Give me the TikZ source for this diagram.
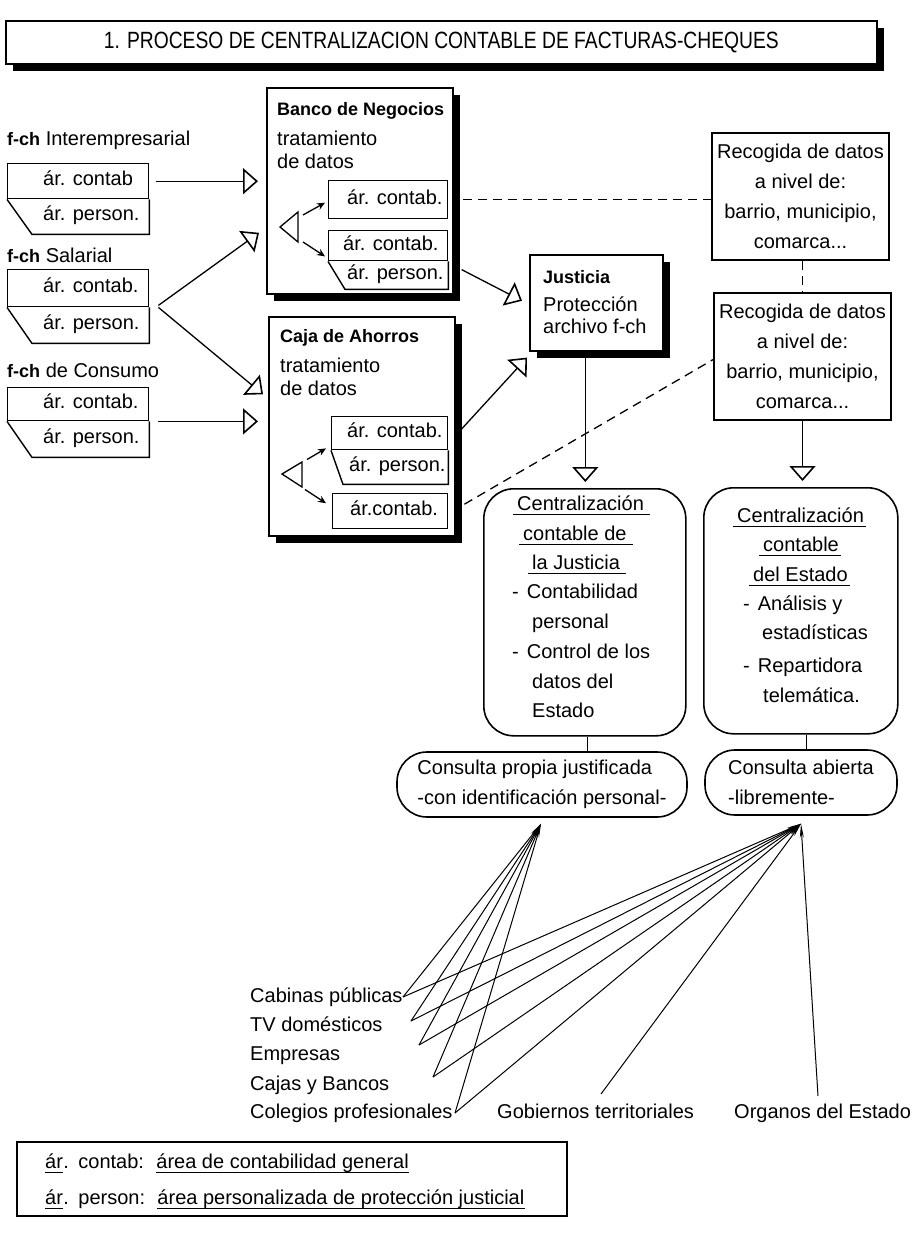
\documentclass[tikz,border=0pt]{standalone}
\usepackage{fontspec}
\setmainfont{Liberation Sans}
\newfontfamily\titlefont[FakeStretch=0.82]{Liberation Sans}
\usetikzlibrary{arrows.meta,shadows,calc,positioning}

\newcommand{\bodysize}{\fontsize{20}{30}\selectfont}
\newcommand{\boldsize}{\fontsize{18}{30}\selectfont\bfseries}
\newcommand{\dashitem}{-\hspace{8pt}}

\tikzset{
  txt/.style={inner sep=0pt, text height=14pt, text depth=4pt, font=\bodysize},
  bld/.style={txt, font=\boldsize},
  box/.style={draw, line width=1.6pt, fill=white, inner sep=0pt},
  shbox/.style={box, drop shadow={shadow xshift=7pt, shadow yshift=-7pt, opacity=1, fill=black}},
  cell/.style={draw, line width=1.4pt, inner sep=0pt},
  rbox/.style={draw, line width=1.6pt, rounded corners=30pt, inner sep=0pt},
  harrow/.style={line width=1.3pt, -{Triangle[open, length=15pt, width=26pt, line width=1.6pt]}},
  sarrow/.style={line width=1.3pt, -{Stealth[length=8pt, width=7pt]}},
  dline/.style={line width=1.3pt, dash pattern=on 9pt off 6pt},
  fanline/.style={line width=1pt, -{Stealth[length=14pt, width=4pt]}}
}

\begin{document}
\begin{tikzpicture}[x=1pt, y=-1pt]

    \fill[white] (0,0) rectangle (917,1247);

    \node[shbox, font=\titlefont\fontsize{23.5}{26}\selectfont, minimum width=871pt, minimum height=43pt, anchor=north west] (title) at (5,20) {1. PROCESO DE CENTRALIZACION CONTABLE DE FACTURAS-CHEQUES};

    % facturas-cheques
    \node[txt, anchor=west] (inter) at (7,140) {{\boldsize f-ch} Interempresarial};
    \node[cell, minimum width=141pt, minimum height=35pt, anchor=north west] (ic) at (7,163) {};
    \draw[line width=1.4pt] (ic.south west) -- ++(25,35) -| (ic.south east);
    \node[txt, anchor=west] (ic-t) at (43,180.5) {ár. contab};
    \node[txt, anchor=west] (ip-t) at (43,215.5) {ár. person.};

    \node[txt, anchor=west] (salar) at (7,257) {{\boldsize f-ch} Salarial};
    \node[cell, minimum width=141pt, minimum height=37pt, anchor=north west] (sc) at (7,269) {};
    \draw[line width=1.4pt] (sc.south west) -- ++(25,36) -| (sc.south east);
    \node[txt, anchor=west] (sc-t) at (43,287.5) {ár. contab.};
    \node[txt, anchor=west] (sp-t) at (43,324) {ár. person.};

    \node[txt, anchor=west] (consu) at (7,372) {{\boldsize f-ch} de Consumo};
    \node[cell, minimum width=141pt, minimum height=33pt, anchor=north west] (cc) at (7,387) {};
    \draw[line width=1.4pt] (cc.south west) -- ++(25,36) -| (cc.south east);
    \node[txt, anchor=west] (cc-t) at (43,403.5) {ár. contab.};
    \node[txt, anchor=west] (cp-t) at (43,438) {ár. person.};

    % bancos
    \node[shbox, minimum width=186pt, minimum height=206pt, anchor=north west] (banco) at (266,87) {};
    \node[bld, anchor=west] (banco-t) at (277,110) {Banco de Negocios};
    \node[txt, anchor=west] (banco-t2) at (277,140) {tratamiento};
    \node[txt, anchor=west] (banco-t3) at (277,163) {de datos};
    \node[cell, minimum width=119pt, minimum height=38pt, anchor=north west] (bn1) at (328,180) {};
    \node[txt, anchor=west] (bn1-t) at (347,199) {ár. contab.};
    \node[cell, minimum width=119pt, minimum height=30pt, anchor=north west] (bn2) at (328,230) {};
    \draw[line width=1.4pt] (bn2.south west) -- ++(17,28) -| (bn2.south east);
    \node[txt, anchor=west] (bn2-t) at (343,245) {ár. contab.};
    \node[txt, anchor=west] (bn3-t) at (347,274) {ár. person.};
    \draw[line width=1.3pt] (280,227) -- (298,212) -- (298,242) -- cycle;
    \coordinate (bsplit) at (298,227);
    \draw[sarrow] ($(bsplit)+(5,-12)$) -- ($(bn1.west)+(-3,3)$);
    \draw[sarrow] ($(bsplit)+(5,15)$) -- ($(bn2.south west)+(-3,-5)$);

    \node[shbox, minimum width=186pt, minimum height=219pt, anchor=north west] (caja) at (268,316) {};
    \node[bld, anchor=west] (caja-t) at (280,337) {Caja de Ahorros};
    \node[txt, anchor=west] (caja-t2) at (280,367) {tratamiento};
    \node[txt, anchor=west] (caja-t3) at (280,390) {de datos};
    \node[cell, minimum width=116pt, minimum height=33pt, anchor=north west] (cb1) at (331,416) {};
    \draw[line width=1.4pt] (cb1.south west) -- ++(12,34) -| (cb1.south east);
    \node[txt, anchor=west] (cb1-t) at (347,432.5) {ár. contab.};
    \node[txt, anchor=west] (cb2-t) at (349,466) {ár. person.};
    \node[cell, minimum width=115pt, minimum height=35pt, anchor=north west] (cb3) at (332,493) {};
    \node[txt, anchor=west] (cb3-t) at (350,510.5) {ár.contab.};
    \draw[line width=1.3pt] (282,474) -- (302,462) -- (302,487) -- cycle;
    \coordinate (csplit) at (302,474.5);
    \draw[sarrow] ($(csplit)+(5,-15)$) -- ($(cb1.south west)+(-5,-2)$);
    \draw[sarrow] ($(csplit)+(3,15)$) -- ($(cb3.west)+(-6,-8)$);

    % justicia y recogida
    \node[shbox, minimum width=133pt, minimum height=96pt, anchor=north west] (just) at (529,254) {};
    \node[bld, anchor=west] (just-t) at (543,278) {Justicia};
    \node[txt, anchor=west] (just-t2) at (543,306) {Protección};
    \node[txt, anchor=west] (just-t3) at (543,328) {archivo f-ch};

    \node[box, font=\bodysize, align=center, minimum width=177pt, minimum height=127pt] (rec1) at (800.5,196.5) {Recogida de datos\\a nivel de:\\barrio, municipio,\\comarca...};
    \node[box, font=\bodysize, align=center, minimum width=177pt, minimum height=127pt] (rec2) at (802.5,356.5) {Recogida de datos\\a nivel de:\\barrio, municipio,\\comarca...};

    % centralizacion
    \node[rbox, minimum width=202pt, minimum height=247pt, anchor=north west] (cj) at (483,488) {};
    \foreach \t/\x/\y [count=\i] in {Centralización/517/505, contable de/523/535, la Justicia/532/564,
        \dashitem Contabilidad/512/593, personal/532/623, \dashitem Control de los/512/653, datos del/532/683, Estado/532/712}
      \node[txt, anchor=west] (cj\i) at (\x,\y) {\t};
    \foreach \i in {1,2,3}
      \draw[line width=1.2pt] ($(cj\i.south west)+(-4,0)$) -- ($(cj\i.south east)+(6,0)$);

    \node[rbox, minimum width=194pt, minimum height=246pt, anchor=north west] (ce) at (703,487) {};
    \foreach \t/\x/\y [count=\i] in {Centralización/737/517, contable/763/546, del Estado/753/576,
        \dashitem Análisis y/743/605, estadísticas/762/634, \dashitem Repartidora/743/667, telemática./763/697}
      \node[txt, anchor=west] (ce\i) at (\x,\y) {\t};
    \foreach \i in {1,2,3}
      \draw[line width=1.2pt] ($(ce\i.south west)+(-4,0)$) -- ($(ce\i.south east)+(2,0)$);

    \node[rbox, font=\bodysize, align=left, minimum width=290pt, minimum height=65pt] (cp) at (542,784.5) {Consulta propia justificada\\-con identificación personal-};
    \node[rbox, font=\bodysize, align=left, minimum width=192pt, minimum height=65pt] (ca) at (801,782.5) {Consulta abierta\\-libremente-};

    % conexiones
    \draw[harrow, shorten >=8pt] ($(ic.east)+(7,0)$) -- (banco.west |- ic.east);
    \draw[harrow] ($(sc.south east)+(9,-2)$) -- ($(banco.west)+(-7,42)$);
    \draw[harrow] ($(sc.south east)+(9,0)$) -- ($(caja.west)+(-5,-32)$);
    \draw[harrow, shorten >=10pt] ($(cc.south east)+(9,0)$) -- (caja.west |- cc.south east);
    \draw[harrow] ($(banco.south east)+(8,-25)$) -- ($(just.west)+(-7,-2)$);
    \draw[harrow] ($(caja.east)+(3,6)$) -- ($(just.south west)+(-2,6)$);
    \coordinate (jdown) at ($(just.south)+(-11,0)$);
    \draw[harrow, shorten >=6pt] (jdown) -- (jdown |- cj.north);
    \draw[harrow, shorten >=6pt] (rec2.south) -- (rec2.south |- ce.north);

    \draw[dline] ($(bn1.east)+(15,0)$) -- (rec1.west |- bn1.east);
    \draw[dline] ($(cb3.east)+(16,-7)$) -- ($(rec2.west)+(0,3)$);
    \draw[dline] (rec2.north |- rec1.south) -- (rec2.north);

    \draw[line width=1.3pt] ($(cj.south)+(3,0)$) -- ($(cj.south |- cp.north)+(3,0)$);
    \draw[line width=1.3pt] ($(ce.south)+(6,0)$) -- ($(ce.south |- ca.north)+(6,0)$);

    % usuarios
    \node[txt, anchor=west] (cabinas) at (250,997) {Cabinas públicas};
    \node[txt, anchor=west] (tv) at (250,1026) {TV domésticos};
    \node[txt, anchor=west] (empresas) at (250,1055) {Empresas};
    \node[txt, anchor=west] (cajas) at (250,1085) {Cajas y Bancos};
    \node[txt, anchor=west] (colegios) at (250,1113) {Colegios profesionales};
    \node[txt, anchor=west] (gobiernos) at (497,1113) {Gobiernos territoriales};
    \node[txt, anchor=west] (organos) at (734,1113) {Organos del Estado};

    \coordinate (fp) at ($(cp.south)+(-1,6)$);
    \coordinate (fa) at ($(ca.south)+(0,8)$);
    \coordinate (cabinas-e) at (403,997);
    \coordinate (tv-e) at (411,1021);
    \coordinate (empresas-e) at (419,1045);
    \coordinate (cajas-e) at (433,1077);
    \coordinate (colegios-e) at (455,1113);
    \coordinate (gobiernos-e) at (601,1094);
    \coordinate (organos-e) at (818,1096);

    \foreach \e in {cabinas-e,tv-e,empresas-e,cajas-e,colegios-e}
      \draw[fanline] (\e) -- (fp);
    \foreach \e in {cabinas-e,tv-e,empresas-e,cajas-e,colegios-e,gobiernos-e,organos-e}
      \draw[fanline] (\e) -- (fa);

    % leyenda
    \node[box, minimum width=550pt, minimum height=74pt, anchor=north west] (legend) at (16,1141) {};
    \node[txt, anchor=west] (l1a) at (45,1163) {ár};
    \node[txt, right=0pt of l1a] (l1d) {.};
    \node[txt, right=15pt of l1a] (l1b) {contab:};
    \node[txt, right=12pt of l1b] (l1c) {área de contabilidad general};
    \node[txt, anchor=west] (l2a) at (45,1199) {ár};
    \node[txt, right=0pt of l2a] (l2d) {.};
    \node[txt, right=15pt of l2a] (l2b) {person:};
    \node[txt, right=12pt of l2b] (l2c) {área personalizada de protección justicial};
    \foreach \n in {l1a,l1c,l2a,l2c}
      \draw[line width=1.2pt] (\n.south west) -- (\n.south east);

\end{tikzpicture}
\end{document}
